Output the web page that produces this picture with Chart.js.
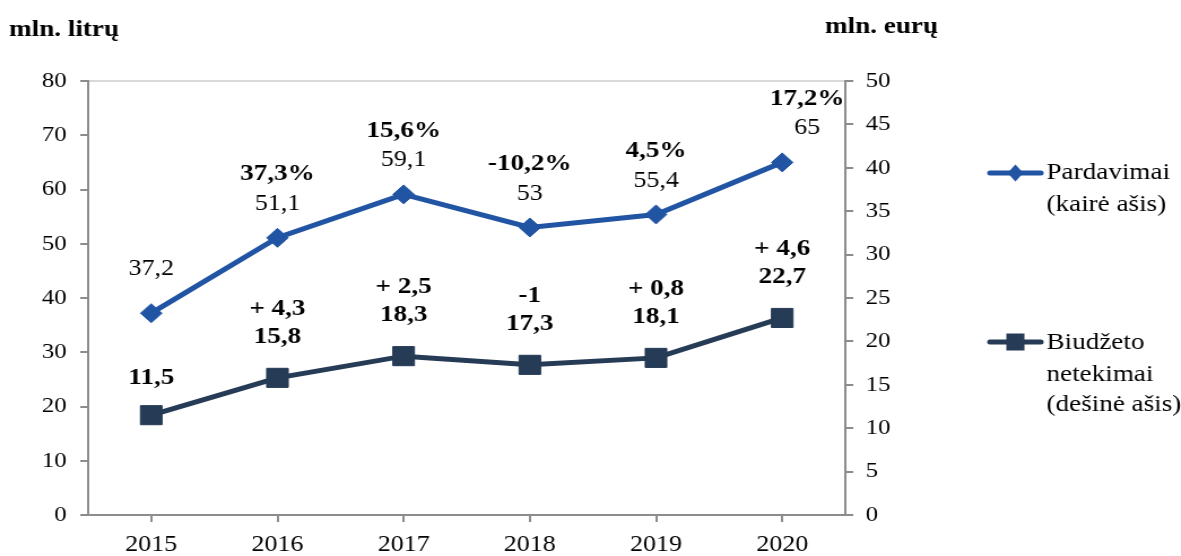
<!DOCTYPE html>
<html>
<head>
<meta charset="utf-8">
<script src="https://cdn.jsdelivr.net/npm/chart.js@4.4.1/dist/chart.umd.min.js"></script>
<style>
    body { margin: 0; background: #fff; overflow: hidden; }
    #wrap { width: 1045px; height: 556px; transform: scaleX(1.1301); transform-origin: 0 0; }
</style>
</head>
<body>
<div id="wrap"><canvas id="myChart" width="1045" height="556"></canvas></div>
<script>
const years = ['2015', '2016', '2017', '2018', '2019', '2020'];
const pardavimai = [37.2, 51.1, 59.1, 53, 55.4, 65];
const pardavimaiPokytis = ['', '37,3%', '15,6%', '-10,2%', '4,5%', '17,2%'];
const netekimai = [11.5, 15.8, 18.3, 17.3, 18.1, 22.7];
const netekimaiPokytis = ['', '+ 4,3', '+ 2,5', '-1', '+ 0,8', '+ 4,6'];
const leftTicks = [0, 10, 20, 30, 40, 50, 60, 70, 80];
const rightTicks = [0, 5, 10, 15, 20, 25, 30, 35, 40, 45, 50];

const blue = '#2155a3';
const navy = '#263b55';
const axisGray = '#8c8c8c';
const serif = '"Liberation Serif", "Times New Roman", serif';

function fmt(v) {
    return String(v).replace('.', ',');
}

// value labels, legend and axis titles
const extrasPlugin = {
    id: 'extras',
    afterDatasetsDraw(chart) {
        const ctx = chart.ctx;
        const last = years.length - 1;
        ctx.save();
        ctx.textAlign = 'center';
        ctx.textBaseline = 'middle';
        ctx.fillStyle = '#000';

        chart.getDatasetMeta(0).data.forEach(function (pt, i) {
            const dx = i === last ? 22 : 0;
            const dy = i === 0 ? -44 : -34;
            ctx.font = '23px ' + serif;
            ctx.fillText(fmt(pardavimai[i]), pt.x + dx, pt.y + dy);
            if (pardavimaiPokytis[i]) {
                ctx.font = 'bold 24px ' + serif;
                ctx.fillText(pardavimaiPokytis[i], pt.x + dx, pt.y + dy - 30);
            }
        });

        chart.getDatasetMeta(1).data.forEach(function (pt, i) {
            const dy = i === 0 ? -37 : -41;
            ctx.font = 'bold 24px ' + serif;
            ctx.fillText(fmt(netekimai[i]), pt.x, pt.y + dy);
            if (netekimaiPokytis[i]) {
                ctx.fillText(netekimaiPokytis[i], pt.x, pt.y + dy - 28);
            }
        });

        // axis titles
        ctx.font = 'bold 24px ' + serif;
        ctx.textAlign = 'left';
        ctx.fillText('mln. litrų', 8, 30);
        ctx.textAlign = 'center';
        ctx.fillText('mln. eurų', 780, 27);

        // legend
        drawLegendItem(ctx, 173, blue, 'diamond');
        drawLegendItem(ctx, 342, navy, 'square');
        ctx.font = '24px ' + serif;
        ctx.textAlign = 'left';
        ctx.fillStyle = '#000';
        ctx.fillText('Pardavimai', 926, 173);
        ctx.fillText('(kairė ašis)', 926, 205);
        ctx.fillText('Biudžeto', 926, 343);
        ctx.fillText('netekimai', 926, 375);
        ctx.fillText('(dešinė ašis)', 926, 405);
        ctx.restore();
    }
};

function drawLegendItem(ctx, y, color, shape) {
    ctx.save();
    ctx.strokeStyle = color;
    ctx.fillStyle = color;
    ctx.lineWidth = 5;
    ctx.lineCap = 'round';
    ctx.beginPath();
    ctx.moveTo(876, y);
    ctx.lineTo(921, y);
    ctx.stroke();
    const cx = 898.5;
    ctx.beginPath();
    if (shape === 'diamond') {
        ctx.moveTo(cx, y - 8.5);
        ctx.lineTo(cx + 7, y);
        ctx.lineTo(cx, y + 8.5);
        ctx.lineTo(cx - 7, y);
        ctx.closePath();
    } else {
        ctx.rect(cx - 8, y - 8.5, 16, 17);
    }
    ctx.fill();
    ctx.restore();
}

const ctx = document.getElementById('myChart').getContext('2d');

new Chart(ctx, {
    type: 'line',
    data: {
        labels: years,
        datasets: [{
            label: 'Pardavimai (kairė ašis)',
            data: pardavimai,
            yAxisID: 'y',
            borderColor: blue,
            backgroundColor: blue,
            borderWidth: 5,
            pointStyle: 'rectRot',
            pointRadius: 9.5,
            pointHoverRadius: 9.5,
            pointBorderWidth: 1,
            pointBorderColor: blue,
            pointBackgroundColor: blue
        }, {
            label: 'Biudžeto netekimai (dešinė ašis)',
            data: netekimai,
            yAxisID: 'y1',
            borderColor: navy,
            backgroundColor: navy,
            borderWidth: 5,
            pointStyle: 'rect',
            pointRadius: 13.5,
            pointHoverRadius: 13.5,
            pointBorderWidth: 1,
            pointBorderColor: navy,
            pointBackgroundColor: navy
        }]
    },
    options: {
        responsive: false,
        animation: false,
        layout: { padding: { top: 81, right: 244, left: 0, bottom: 0 } },
        plugins: {
            legend: { display: false },
            tooltip: { enabled: false }
        },
        scales: {
            x: {
                offset: true,
                grid: { drawOnChartArea: false, drawTicks: true, tickLength: 7, color: axisGray, lineWidth: 2 },
                border: { color: axisGray, width: 2 },
                ticks: { color: '#000', font: { family: serif, size: 23 }, padding: 9, maxRotation: 0 },
                afterFit(scale) { scale.height = 41; }
            },
            y: {
                position: 'left',
                min: 0,
                max: 80,
                afterBuildTicks(scale) { scale.ticks = leftTicks.map(v => ({ value: v })); },
                grid: {
                    tickLength: 7,
                    lineWidth: 2,
                    color: c => (c.tick && c.tick.value === 80 ? '#d9d9d9' : 'rgba(0,0,0,0)'),
                    tickColor: axisGray
                },
                border: { color: axisGray, width: 2 },
                ticks: { color: '#000', font: { family: serif, size: 22 }, padding: 12 },
                afterFit(scale) { scale.width = 78; }
            },
            y1: {
                position: 'right',
                min: 0,
                max: 50,
                afterBuildTicks(scale) { scale.ticks = rightTicks.map(v => ({ value: v })); },
                grid: { drawOnChartArea: false, tickLength: 7, lineWidth: 2, color: axisGray },
                border: { color: axisGray, width: 2 },
                ticks: { color: '#000', font: { family: serif, size: 22 }, padding: 11 },
                afterFit(scale) { scale.width = 53; }
            }
        }
    },
    plugins: [extrasPlugin]
});
</script>
</body>
</html>
